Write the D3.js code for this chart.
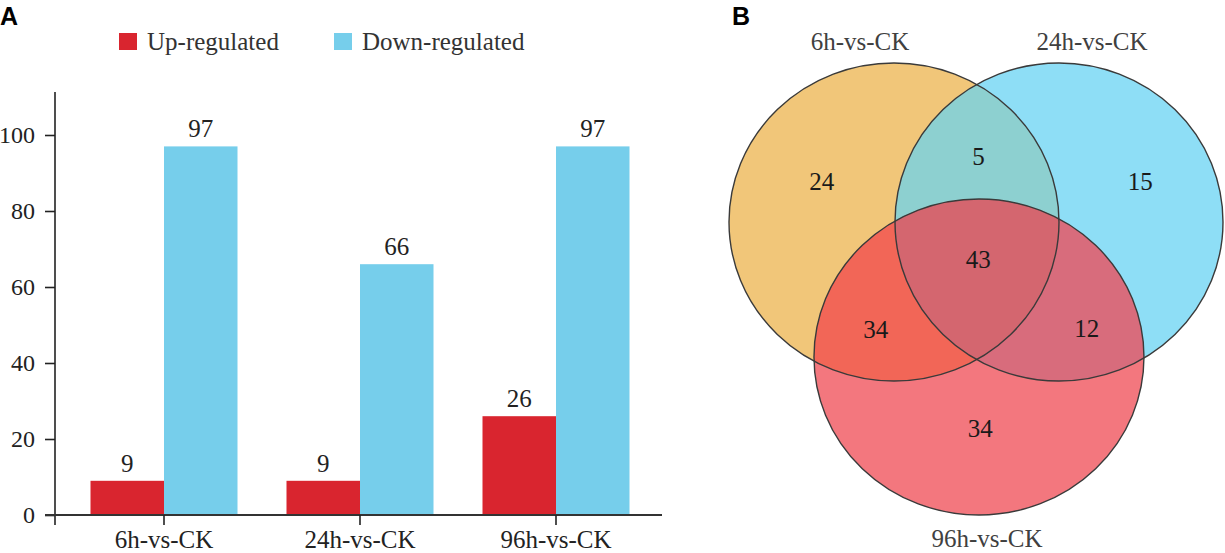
<!DOCTYPE html>
<html>
<head>
<meta charset="utf-8">
<script src="https://cdn.jsdelivr.net/npm/d3@7"></script>
<style>
  html, body { margin: 0; padding: 0; background: #fff; }
  svg { display: block; }
  text { font-family: "Liberation Serif", "Times New Roman", serif; }
</style>
</head>
<body>
<svg id="chart" width="1225" height="553"></svg>
<script>
// ---------- DATA ----------
const categories = ["6h-vs-CK", "24h-vs-CK", "96h-vs-CK"];
const seriesNames = ["Up-regulated", "Down-regulated"];
const upValues = [9, 9, 26];
const downValues = [97, 66, 97];
const yTicks = [0, 20, 40, 60, 80, 100];

const vennSetNames = ["6h-vs-CK", "24h-vs-CK", "96h-vs-CK"];
// region membership codes (6h, 24h, 96h) and their counts
const vennRegionCodes = ["100", "010", "001", "110", "101", "011", "111"];
const vennRegionCounts = [24, 15, 34, 5, 34, 12, 43];

// ---------- STYLE ----------
const barColors = ["#D9252F", "#76CEEB"];
const setColors = ["#F1C679", "#8EDEF6", "#F3777E"];
const regionColors = {
  "110": "#8DD0D0",
  "101": "#F26657",
  "011": "#D86C7C",
  "111": "#D4666F"
};
const serif = "'Liberation Serif', 'Times New Roman', serif";

const svg = d3.select("#chart");

// ================= PANEL A: grouped bars =================
const gA = svg.append("g");

gA.append("text").attr("x", 0).attr("y", 25)
  .attr("font-family", "'Liberation Sans', Arial, sans-serif")
  .style("font-family", "'Liberation Sans', Arial, sans-serif")
  .style("font-weight", "bold").style("font-size", "25px").attr("fill", "#000").text("A");

const y = d3.scaleLinear().domain([0, 100]).range([515, 135]);
const x0 = d3.scaleBand().domain(categories).range([66, 654]);
const groupW = 147;
const x1 = d3.scaleBand().domain(seriesNames).range([0, groupW]);

const rows = categories.map((c, i) => ({ cat: c, vals: [upValues[i], downValues[i]] }));

const groups = gA.selectAll("g.grp").data(rows).join("g")
  .attr("class", "grp")
  .attr("transform", d => `translate(${x0(d.cat) + x0.bandwidth() / 2 - groupW / 2},0)`);

groups.selectAll("rect").data(d => d.vals.map((v, j) => ({ s: seriesNames[j], v, j }))).join("rect")
  .attr("x", d => x1(d.s))
  .attr("y", d => y(d.v))
  .attr("width", x1.bandwidth())
  .attr("height", d => y(0) - y(d.v))
  .attr("fill", d => barColors[d.j]);

groups.selectAll("text.val").data(d => d.vals.map((v, j) => ({ s: seriesNames[j], v, j }))).join("text")
  .attr("class", "val")
  .attr("x", d => x1(d.s) + x1.bandwidth() / 2)
  .attr("y", d => y(d.v) - 9)
  .attr("text-anchor", "middle")
  .style("font-size", "25px").attr("fill", "#222")
  .text(d => d.v);

// y axis
const yAxis = d3.axisLeft(y).tickValues(yTicks).tickSize(10).tickPadding(10);
const gy = gA.append("g").attr("transform", "translate(55,0)").call(yAxis)
  .attr("font-family", serif).attr("font-size", 24);
gy.select(".domain").remove();
gy.selectAll(".tick line").attr("stroke", "#222").attr("stroke-width", 1.6);
gy.selectAll(".tick text")
  .style("font-family", serif).style("font-size", "24px").attr("fill", "#222");
gA.append("line").attr("x1", 55).attr("x2", 55).attr("y1", 92).attr("y2", 525)
  .attr("stroke", "#222").attr("stroke-width", 1.6);

// x axis
gA.append("line").attr("x1", 45).attr("x2", 662).attr("y1", y(0)).attr("y2", y(0))
  .attr("stroke", "#333").attr("stroke-width", 1.8);
const xAxis = d3.axisBottom(x0).tickSize(10).tickPadding(0);
const gx = gA.append("g").attr("transform", `translate(0,${y(0)})`).call(xAxis)
  .attr("font-family", serif).attr("font-size", 25);
gx.select(".domain").remove();
gx.selectAll(".tick line").attr("stroke", "#222").attr("stroke-width", 1.6);
gx.selectAll(".tick text").attr("y", 33).attr("dy", null)
  .style("font-family", serif).style("font-size", "25px").attr("fill", "#222");

// legend
const legX = [119, 334];
const leg = gA.selectAll("g.leg").data(seriesNames).join("g").attr("class", "leg")
  .attr("transform", (d, i) => `translate(${legX[i]},33)`);
leg.append("rect").attr("width", 18).attr("height", 17).attr("fill", (d, i) => barColors[i]);
leg.append("text").attr("x", 28).attr("y", 17).style("font-size", "25px").attr("fill", "#333").text(d => d);

// ================= PANEL B: Venn =================
const gB = svg.append("g");
gB.append("text").attr("x", 732).attr("y", 25)
  .style("font-family", "'Liberation Sans', Arial, sans-serif")
  .style("font-weight", "bold").style("font-size", "25px").attr("fill", "#000").text("B");

// ellipse geometry via a scale from unit space
const vx = d3.scaleLinear().domain([0, 1]).range([894, 1059]);
const vy = d3.scaleLinear().domain([0, 1]).range([222, 357]);
const ellipses = [
  { cx: vx(0), cy: vy(0), rx: 165, ry: 159 },
  { cx: vx(1), cy: vy(0), rx: 164, ry: 159 },
  { cx: vx(0.515), cy: vy(1), rx: 165, ry: 158 }
];

const defs = svg.append("defs");
ellipses.forEach((e, i) => {
  defs.append("clipPath").attr("id", "clip" + i)
    .append("ellipse").attr("cx", e.cx).attr("cy", e.cy).attr("rx", e.rx).attr("ry", e.ry);
});

const drawEll = (g, e, fill) => g.append("ellipse")
  .attr("cx", e.cx).attr("cy", e.cy).attr("rx", e.rx).attr("ry", e.ry).attr("fill", fill);

ellipses.forEach((e, i) => drawEll(gB, e, setColors[i]));
// pairwise overlaps
drawEll(gB.append("g").attr("clip-path", "url(#clip0)"), ellipses[1], regionColors["110"]);
drawEll(gB.append("g").attr("clip-path", "url(#clip0)"), ellipses[2], regionColors["101"]);
drawEll(gB.append("g").attr("clip-path", "url(#clip1)"), ellipses[2], regionColors["011"]);
// triple overlap
drawEll(gB.append("g").attr("clip-path", "url(#clip0)").append("g").attr("clip-path", "url(#clip1)"),
  ellipses[2], regionColors["111"]);
// outlines
ellipses.forEach(e => gB.append("ellipse")
  .attr("cx", e.cx).attr("cy", e.cy).attr("rx", e.rx).attr("ry", e.ry)
  .attr("fill", "none").attr("stroke", "#3a3a3a").attr("stroke-width", 1.4));

// region label positions: centroid of each region by sampling, then nudged
const inside = (e, px, py) => ((px - e.cx) / e.rx) ** 2 + ((py - e.cy) / e.ry) ** 2 <= 1;
const acc = {};
vennRegionCodes.forEach(c => acc[c] = { sx: 0, sy: 0, n: 0 });
for (let px = 720; px <= 1225; px += 2) {
  for (let py = 55; py <= 520; py += 2) {
    const code = ellipses.map(e => inside(e, px, py) ? "1" : "0").join("");
    if (acc[code]) { acc[code].sx += px; acc[code].sy += py; acc[code].n++; }
  }
}
const labelNudge = { "100": [-5, -4], "010": [14, -2], "001": [1, -5], "110": [2, -3], "101": [-5, 8], "011": [12, 8], "111": [1, -8] };
gB.selectAll("text.cnt").data(vennRegionCodes).join("text")
  .attr("class", "cnt")
  .attr("x", c => acc[c].sx / acc[c].n + labelNudge[c][0])
  .attr("y", c => acc[c].sy / acc[c].n + labelNudge[c][1])
  .attr("dy", "0.35em")
  .attr("text-anchor", "middle")
  .style("font-size", "25px").attr("fill", "#1a1a1a")
  .text((c, i) => vennRegionCounts[i]);

// set labels
const setLabelPos = [[-34, -172], [33, -172], [8, 190]];
gB.selectAll("text.setlab").data(vennSetNames).join("text")
  .attr("class", "setlab")
  .attr("x", (d, i) => ellipses[i].cx + setLabelPos[i][0])
  .attr("y", (d, i) => ellipses[i].cy + setLabelPos[i][1])
  .attr("text-anchor", "middle")
  .style("font-size", "25px").attr("fill", "#404040")
  .text(d => d);
</script>
</body>
</html>
